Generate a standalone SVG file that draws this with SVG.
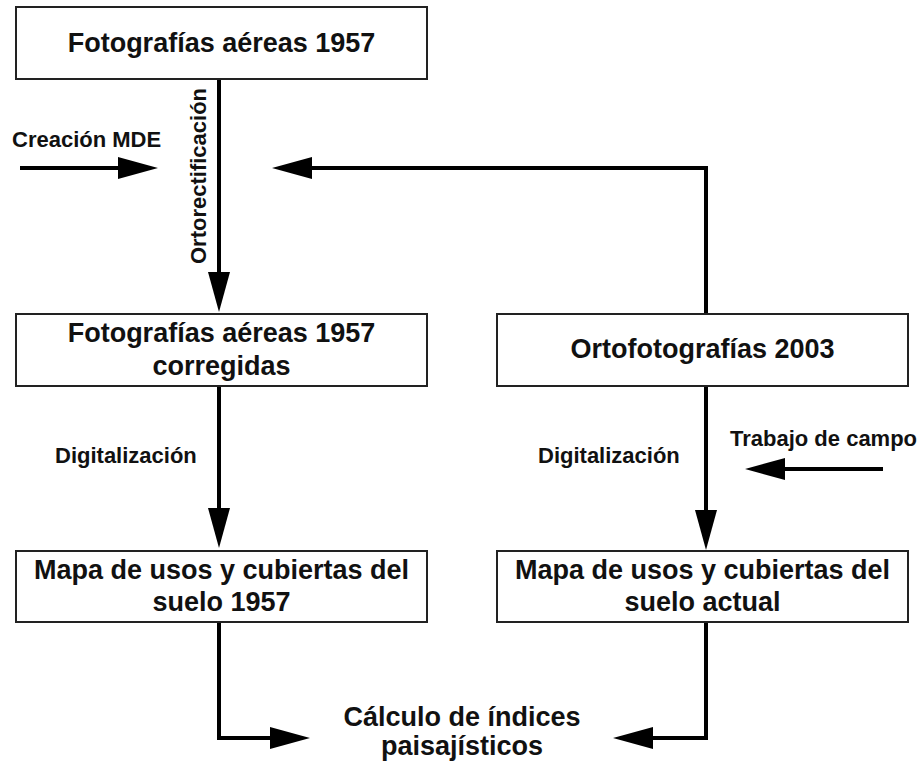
<svg xmlns="http://www.w3.org/2000/svg" width="923" height="766" viewBox="0 0 923 766">
<style>
.box{fill:#fff;stroke:#222;stroke-width:2}
.t{font-family:"Liberation Sans",Arial,sans-serif;font-weight:bold;font-size:27px;fill:#111;text-anchor:middle}
.s{font-family:"Liberation Sans",Arial,sans-serif;font-weight:bold;font-size:22px;fill:#111}
.c{fill:none;stroke:#000;stroke-width:4}
</style>
<defs>
<marker id="ah" markerUnits="userSpaceOnUse" markerWidth="42" markerHeight="24" refX="0" refY="11" orient="auto">
<path d="M0,0 L40,11 L0,22 Z" fill="#000"/>
</marker>
</defs>
<rect width="923" height="766" fill="#fff"/>
<g id="connectors">
<path class="c" d="M219,79 V272" marker-end="url(#ah)"/>
<path class="c" d="M20,168 H118" marker-end="url(#ah)"/>
<path class="c" d="M706,314 V168 H312" marker-end="url(#ah)"/>
<path class="c" d="M219,386 V508" marker-end="url(#ah)"/>
<path class="c" d="M706,386 V510" marker-end="url(#ah)"/>
<path class="c" d="M883,469 H785" marker-end="url(#ah)"/>
<path class="c" d="M219,622 V738 H270" marker-end="url(#ah)"/>
<path class="c" d="M706,622 V738 H653" marker-end="url(#ah)"/>
</g>
<g id="n1"><rect class="box" x="16" y="7" width="411" height="72"/><text class="t" x="221.5" y="52">Fotografías aéreas 1957</text></g>
<g id="n2"><rect class="box" x="16" y="314" width="411" height="72"/><text class="t" x="221.5" y="342">Fotografías aéreas 1957</text><text class="t" x="221.5" y="375">corregidas</text></g>
<g id="n3"><rect class="box" x="497" y="314" width="411" height="72"/><text class="t" x="702.5" y="358">Ortofotografías 2003</text></g>
<g id="n4"><rect class="box" x="16" y="551" width="411" height="71"/><text class="t" x="221.5" y="579">Mapa de usos y cubiertas del</text><text class="t" x="221.5" y="611">suelo 1957</text></g>
<g id="n5"><rect class="box" x="497" y="551" width="411" height="71"/><text class="t" x="702.5" y="579">Mapa de usos y cubiertas del</text><text class="t" x="702.5" y="611">suelo actual</text></g>
<g id="n6"><text class="t" x="462" y="726">Cálculo de índices</text><text class="t" x="462" y="755">paisajísticos</text></g>
<g id="labels">
<text class="s" x="12" y="147">Creación MDE</text>
<text class="s" text-anchor="middle" transform="translate(206,176) rotate(-90)">Ortorectificación</text>
<text class="s" x="55" y="463">Digitalización</text>
<text class="s" x="538" y="463">Digitalización</text>
<text class="s" x="730" y="446">Trabajo de campo</text>
</g>
</svg>
